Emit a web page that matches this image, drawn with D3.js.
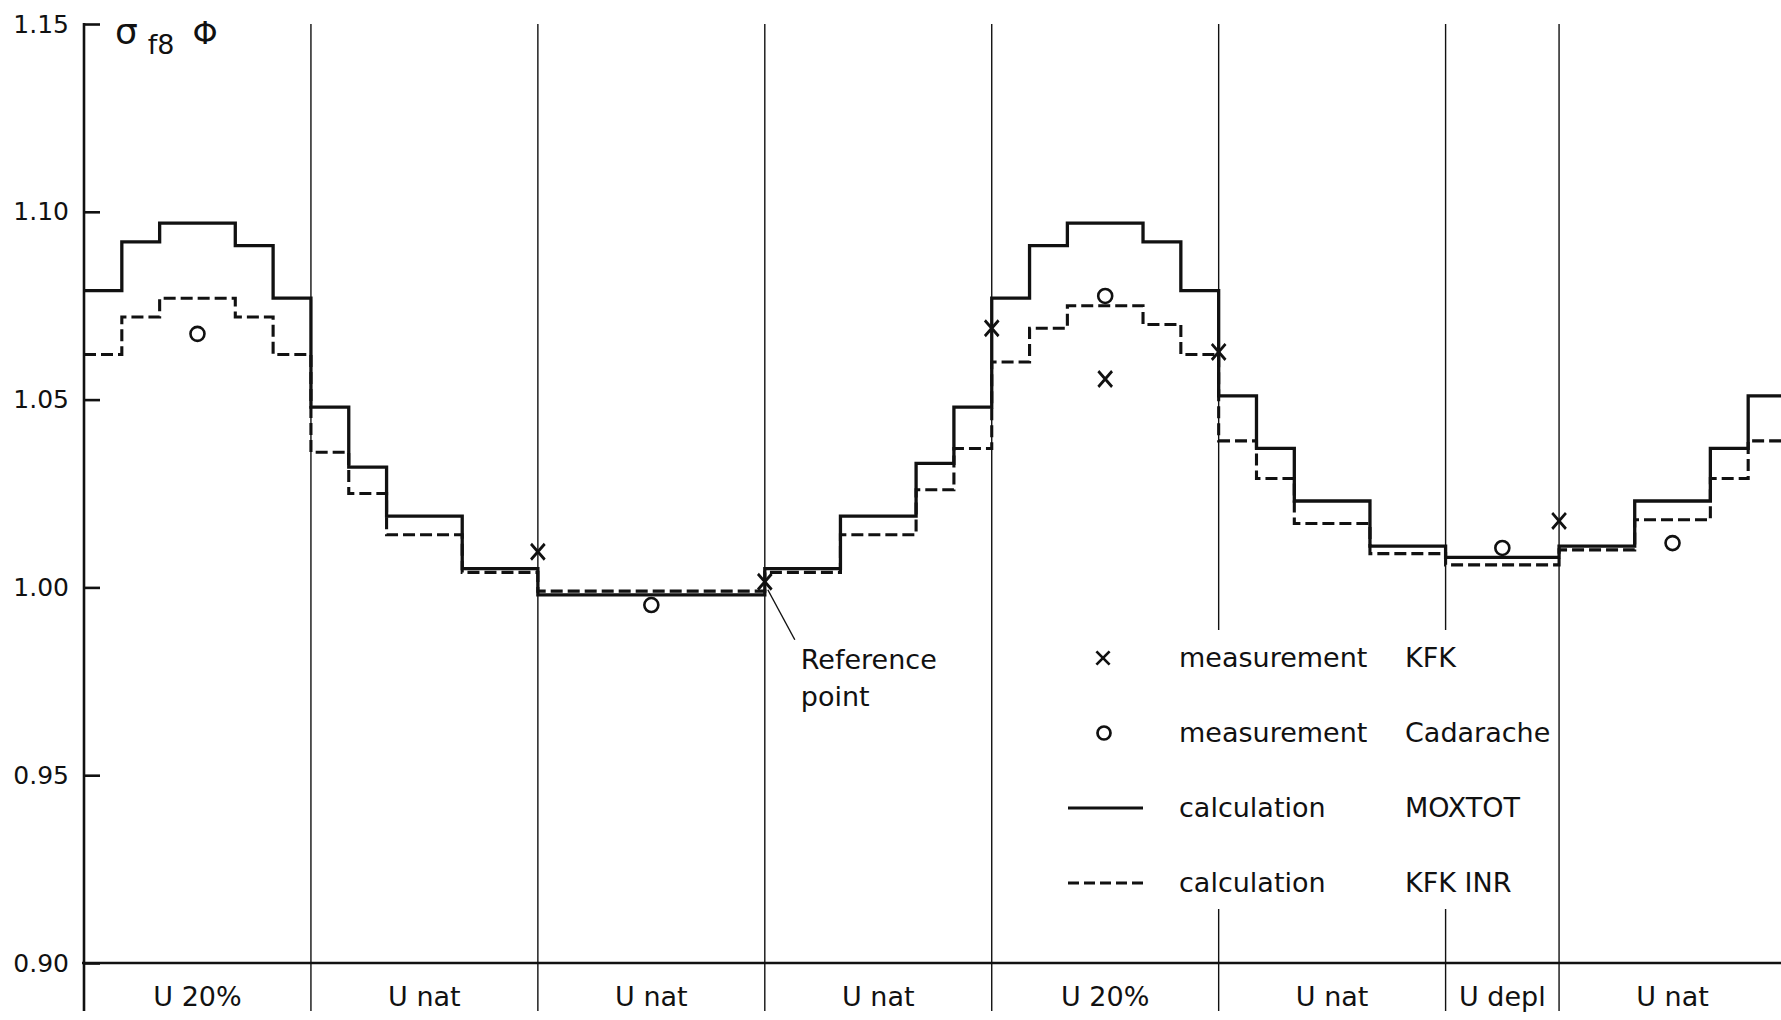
<!DOCTYPE html>
<html>
<head>
<meta charset="utf-8">
<script src="https://cdn.jsdelivr.net/npm/d3@7"></script>
<style>
  body { margin: 0; background: #fff; }
  svg text { font-family: 'DejaVu Sans', sans-serif; fill: #111; }
</style>
</head>
<body>
<svg></svg>
<script>
// fuel zones along the traverse, in cell units
let regionLabels = ['U 20%', 'U nat', 'U nat', 'U nat', 'U 20%', 'U nat', 'U depl', 'U nat']
let regionEdges = [0, 6, 12, 18, 24, 30, 36, 39, 45]

// one value per cell
let moxtot = [
  1.079, 1.092, 1.097, 1.097, 1.091, 1.077,
  1.048, 1.032, 1.019, 1.019, 1.005, 1.005,
  0.998, 0.998, 0.998, 0.998, 0.998, 0.998,
  1.005, 1.005, 1.019, 1.019, 1.033, 1.048,
  1.077, 1.091, 1.097, 1.097, 1.092, 1.079,
  1.051, 1.037, 1.023, 1.023, 1.011, 1.011,
  1.008, 1.008, 1.008,
  1.011, 1.011, 1.023, 1.023, 1.037, 1.051
]
let kfkInr = [
  1.062, 1.072, 1.077, 1.077, 1.072, 1.062,
  1.036, 1.025, 1.014, 1.014, 1.004, 1.004,
  0.999, 0.999, 0.999, 0.999, 0.999, 0.999,
  1.004, 1.004, 1.014, 1.014, 1.026, 1.037,
  1.060, 1.069, 1.075, 1.075, 1.070, 1.062,
  1.039, 1.029, 1.017, 1.017, 1.009, 1.009,
  1.006, 1.006, 1.006,
  1.010, 1.010, 1.018, 1.018, 1.029, 1.039
]

let kfkCell = [12, 18, 24, 27, 30, 39]
let kfkValue = [1.0095, 1.0015, 1.069, 1.0555, 1.0627, 1.0177]
let cadCell = [3, 15, 27, 37.5, 42]
let cadValue = [1.0675, 0.9953, 1.0776, 1.0105, 1.0118]

let yTicks = [0.90, 0.95, 1.00, 1.05, 1.10, 1.15]

let legendSymbol = ['x', 'o', 'solid', 'dashed']
let legendKind = ['measurement', 'measurement', 'calculation', 'calculation']
let legendSource = ['KFK', 'Cadarache', 'MOXTOT', 'KFK INR']

let width = 1781
let height = 1020
let ink = '#111'
let labelSize = '27px'

let svg = d3.select('svg')
  .attr('width', width)
  .attr('height', height)

let xScale = d3.scaleLinear()
  .domain([0, 45])
  .range([84, 1786])

let yScale = d3.scaleLinear()
  .domain([0.90, 1.15])
  .range([963, 24])

let lineBottom = yScale(0.90) + 48

// zone dividers
svg.append('g')
  .selectAll('line')
  .data(regionEdges.slice(1, -1))
  .enter()
  .append('line')
  .attr('x1', d => xScale(d))
  .attr('x2', d => xScale(d))
  .attr('y1', yScale(1.15))
  .attr('y2', lineBottom)
  .attr('stroke', ink)
  .attr('stroke-width', 1.4)

// y axis
let yAxis = d3.axisLeft(yScale)
  .tickValues(yTicks)
  .tickFormat(d3.format('.2f'))
  .tickSizeInner(-16)
  .tickSizeOuter(0)
  .tickPadding(15)

let yG = svg.append('g')
  .attr('transform', 'translate(' + xScale(0) + ', 0)')
  .call(yAxis)
yG.select('.domain').remove()
yG.selectAll('.tick line').attr('stroke', ink).attr('stroke-width', 2.6)
yG.selectAll('.tick text')
  .style('font-size', '25px')
  .style('font-family', "'DejaVu Sans', sans-serif")
  .attr('fill', ink)

svg.append('line')
  .attr('x1', xScale(0)).attr('x2', xScale(0))
  .attr('y1', yScale(1.15) - 1).attr('y2', lineBottom)
  .attr('stroke', ink)
  .attr('stroke-width', 2.6)

// x axis base line
svg.append('line')
  .attr('x1', xScale(0) - 2).attr('x2', width)
  .attr('y1', yScale(0.90)).attr('y2', yScale(0.90))
  .attr('stroke', ink)
  .attr('stroke-width', 2.6)

// zone labels under the axis
svg.append('g')
  .selectAll('text')
  .data(regionLabels)
  .enter()
  .append('text')
  .attr('x', (d, i) => xScale((regionEdges[i] + regionEdges[i + 1]) / 2))
  .attr('y', yScale(0.90) + 43)
  .attr('text-anchor', 'middle')
  .style('font-size', labelSize)
  .text(d => d)

// axis title
let title = svg.append('text')
  .attr('x', 115)
  .attr('y', 44)
title.append('tspan').style('font-size', '36px').text('σ')
title.append('tspan').attr('dx', 10).attr('dy', 10).style('font-size', '27px').text('f8')
title.append('tspan').attr('dx', 18).attr('dy', -10).style('font-size', '32px').text('Φ')

// legend (white box hides the dividers behind it)
let legendX = 1068
let legendTop = 658
let rowGap = 75

svg.append('rect')
  .attr('x', 1168)
  .attr('y', 630)
  .attr('width', 385)
  .attr('height', 279)
  .attr('fill', '#fff')

let rows = svg.append('g')
  .selectAll('g')
  .data(legendSymbol)
  .enter()
  .append('g')
  .attr('transform', (d, i) => 'translate(0, ' + (legendTop + i * rowGap) + ')')

rows.each(function (d) {
  let g = d3.select(this)
  if (d === 'x') {
    g.append('path')
      .attr('d', d3.symbol(d3.symbolX, 115)())
      .attr('transform', 'translate(' + (legendX + 35) + ', 0)')
      .attr('stroke', ink).attr('stroke-width', 2.7).attr('fill', 'none')
  } else if (d === 'o') {
    g.append('circle')
      .attr('cx', legendX + 36).attr('cy', 0).attr('r', 6.5)
      .attr('stroke', ink).attr('stroke-width', 2.7).attr('fill', 'none')
  } else {
    g.append('line')
      .attr('x1', legendX).attr('x2', legendX + 75)
      .attr('y1', 0).attr('y2', 0)
      .attr('stroke', ink).attr('stroke-width', 2.8)
      .attr('stroke-dasharray', d === 'dashed' ? '11,5' : null)
  }
})

rows.append('text')
  .attr('x', 1179)
  .attr('dy', '0.35em')
  .style('font-size', labelSize)
  .text((d, i) => legendKind[i])

rows.append('text')
  .attr('x', 1405)
  .attr('dy', '0.35em')
  .style('font-size', labelSize)
  .text((d, i) => legendSource[i])

// calculated step curves
let stepPoints = (vals) => vals.map((v, i) => [i, v]).concat([[vals.length, vals[vals.length - 1]]])

let stepLine = d3.line()
  .x(d => xScale(d[0]))
  .y(d => yScale(d[1]))
  .curve(d3.curveStepAfter)

svg.append('path')
  .attr('d', stepLine(stepPoints(kfkInr)))
  .attr('fill', 'none')
  .attr('stroke', ink)
  .attr('stroke-width', 3.1)
  .attr('stroke-dasharray', '12,5')

svg.append('path')
  .attr('d', stepLine(stepPoints(moxtot)))
  .attr('fill', 'none')
  .attr('stroke', ink)
  .attr('stroke-width', 3.3)

// measurements
svg.append('g')
  .selectAll('path')
  .data(kfkCell)
  .enter()
  .append('path')
  .attr('d', d3.symbol(d3.symbolX, 125)())
  .attr('transform', (d, i) => 'translate(' + xScale(d) + ', ' + yScale(kfkValue[i]) + ') scale(1, 1.15)')
  .attr('stroke', ink)
  .attr('stroke-width', 2.7)
  .attr('fill', 'none')

svg.append('g')
  .selectAll('circle')
  .data(cadCell)
  .enter()
  .append('circle')
  .attr('cx', d => xScale(d))
  .attr('cy', (d, i) => yScale(cadValue[i]))
  .attr('r', 7)
  .attr('stroke', ink)
  .attr('stroke-width', 2.6)
  .attr('fill', 'none')

// reference point note
let refX = xScale(18)
let refY = yScale(kfkValue[1])
svg.append('line')
  .attr('x1', refX + 3).attr('y1', refY + 8)
  .attr('x2', refX + 30).attr('y2', refY + 58)
  .attr('stroke', ink)
  .attr('stroke-width', 1.4)

svg.append('text')
  .attr('x', refX + 36)
  .attr('y', refY + 87)
  .style('font-size', labelSize)
  .text('Reference')
svg.append('text')
  .attr('x', refX + 36)
  .attr('y', refY + 124)
  .style('font-size', labelSize)
  .text('point')
</script>
</body>
</html>
